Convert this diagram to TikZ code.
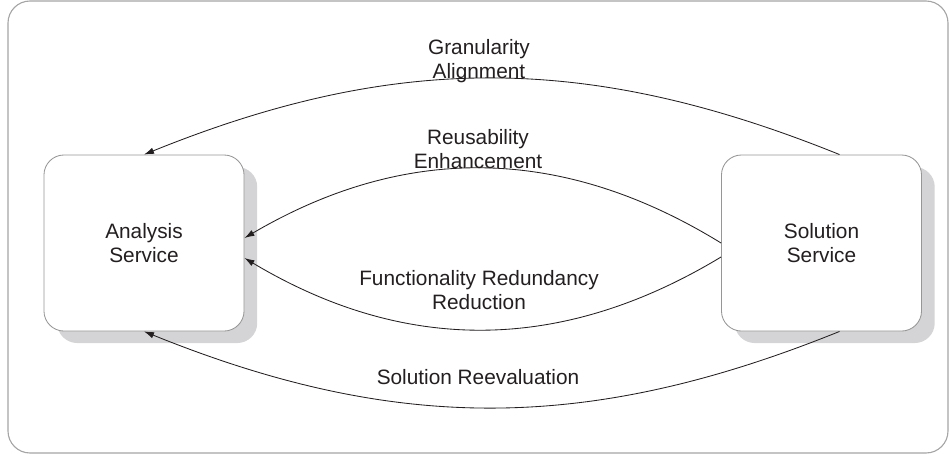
\documentclass[tikz,border=0pt]{standalone}
\usepackage{fontspec}
\setmainfont{Liberation Sans}
\usetikzlibrary{shadows,arrows.meta}
\definecolor{frameg}{RGB}{165,165,165}
\definecolor{boxg}{RGB}{150,150,150}
\definecolor{shadowg}{RGB}{212,212,214}
\definecolor{ink}{RGB}{35,31,32}

\begin{document}
\begin{tikzpicture}[x=0.025cm,y=-0.025cm,
    service/.style={draw=boxg,line width=0.6pt,fill=white,rounded corners=0.5cm,
        minimum width=5cm,minimum height=4.4cm,align=center,text=ink,
        font=\fontsize{14.8}{17}\selectfont,
        drop shadow={shadow xshift=0.33cm,shadow yshift=-0.3cm,fill=shadowg,opacity=1}},
    flow/.style={draw=ink,line width=0.6pt,-{Latex[length=0.25cm,width=0.16cm]}},
    lbl/.style={align=center,text=ink,font=\fontsize{14.8}{17}\selectfont}]
    \useasboundingbox(0,0)rectangle(949,454);
    \draw[frameg,line width=0.8pt,rounded corners=0.55cm](8,1)rectangle(948,453);

    \node[service](analysis)at(144,243){Analysis\\Service};
    \node[service](solution)at(821.5,243){Solution\\Service};

    \draw[flow]([xshift=0.45cm]solution.north)to[bend right=22](analysis.north);
    \draw[flow](solution.west)to[bend right=31]([yshift=0.125cm]analysis.east);
    \draw[flow]([yshift=-0.35cm]solution.west)to[bend left=31]([yshift=-0.375cm]analysis.east);
    \draw[flow]([xshift=0.45cm]solution.south)to[bend left=22](analysis.south);

    \node[lbl](granularity)at(479,61){Granularity\\Alignment};
    \node[lbl](reuse)at(478,149){Reusability\\Enhancement};
    \node[lbl](redundancy)at(479,290){Functionality Redundancy\\Reduction};
    \node[lbl](reeval)at(478,377){Solution Reevaluation};
\end{tikzpicture}
\end{document}
